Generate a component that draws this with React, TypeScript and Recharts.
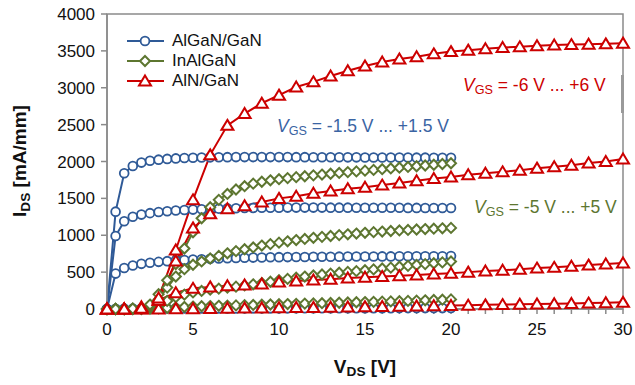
import { LineChart, Line, XAxis, YAxis, ReferenceArea } from 'recharts'

// drain voltage grids (V)
const vdsFine = [
  0, 0.5, 1, 1.5, 2, 2.5, 3, 3.5, 4, 4.5,
  5, 5.5, 6, 6.5, 7, 7.5, 8, 8.5, 9, 9.5,
  10, 10.5, 11, 11.5, 12, 12.5, 13, 13.5, 14, 14.5,
  15, 15.5, 16, 16.5, 17, 17.5, 18, 18.5, 19, 19.5,
  20,
]
const vdsCoarse = [
  0, 1, 2, 3, 4, 5, 6, 7, 8, 9, 10,
  11, 12, 13, 14, 15, 16, 17, 18, 19, 20,
  21, 22, 23, 24, 25, 26, 27, 28, 29, 30,
]
const xTicks = vdsCoarse
const yTicks = [0, 500, 1000, 1500, 2000, 2500, 3000, 3500, 4000]

// AlGaN/GaN, VGS = -1.5 ... +1.5 V
const alganHigh = [
  0, 1320, 1840, 1940, 1985, 2010, 2025, 2035, 2042, 2047,
  2051, 2054, 2056, 2058, 2059, 2060, 2060, 2060, 2060, 2060,
  2060, 2060, 2059, 2059, 2058, 2058, 2057, 2057, 2056, 2056,
  2055, 2055, 2054, 2054, 2053, 2053, 2052, 2052, 2051, 2051,
  2050,
]
const alganMid = [
  0, 990, 1190, 1250, 1280, 1300, 1315, 1326, 1335, 1342,
  1348, 1353, 1357, 1361, 1364, 1367, 1369, 1371, 1372, 1373,
  1374, 1375, 1375, 1375, 1375, 1375, 1374, 1374, 1374, 1373,
  1373, 1373, 1372, 1372, 1372, 1371, 1371, 1370, 1370, 1370,
  1369,
]
const alganLow = [
  0, 480, 555, 590, 612, 627, 639, 649, 657, 664,
  670, 675, 680, 684, 688, 691, 694, 697, 699, 701,
  703, 704, 705, 706, 707, 708, 709, 710, 711, 711,
  712, 712, 713, 713, 714, 714, 715, 715, 716, 716,
  717,
]
const alganOff = [
  0, 4, 5, 5, 6, 6, 6, 7, 7, 7,
  7, 8, 8, 8, 8, 8, 9, 9, 9, 9,
  9, 9, 10, 10, 10, 10, 10, 10, 11, 11,
  11, 11, 11, 11, 12, 12, 12, 12, 12, 12,
  13,
]

// InAlGaN, VGS = -5 ... +5 V
const inalganTop = [
  0, 0, 0, 5, 15, 60, 200, 390, 610, 820,
  1040, 1230, 1380, 1480, 1560, 1620, 1665, 1700, 1725, 1745,
  1760, 1775, 1788, 1800, 1812, 1823, 1834, 1845, 1856, 1866,
  1876, 1886, 1896, 1906, 1916, 1926, 1936, 1946, 1956, 1966,
  1976,
]
const inalganMid = [
  0, 0, 0, 3, 10, 40, 130, 290, 440, 540,
  600, 645, 685, 720, 755, 785, 810, 835, 860, 880,
  900, 918, 935, 950, 965, 978, 990, 1002, 1013, 1023,
  1033, 1042, 1050, 1058, 1065, 1072, 1078, 1084, 1089, 1094,
  1100,
]
const inalganLow = [
  0, 0, 0, 2, 5, 20, 60, 110, 160, 195,
  225, 245, 262, 276, 290, 303, 320, 335, 352, 370,
  390, 408, 425, 440, 455, 468, 480, 492, 503, 514,
  525, 537, 549, 561, 573, 585, 597, 609, 620, 632,
  645,
]
const inalganOff = [
  0, 0, 0, 0, 0, 2, 8, 15, 22, 28,
  33, 37, 40, 43, 46, 49, 52, 55, 58, 61,
  64, 67, 70, 73, 76, 79, 82, 85, 88, 91,
  94, 97, 100, 103, 106, 110, 114, 118, 122, 126,
  130,
]

// AlN/GaN, VGS = -6 ... +6 V
const alnTop = [
  0, 0, 10, 150, 800, 1480, 2090, 2490, 2650, 2790, 2900,
  3010, 3080, 3160, 3230, 3295, 3350, 3390, 3420, 3460, 3490,
  3510, 3530, 3545, 3555, 3570, 3580, 3585, 3590, 3595, 3605,
]
const alnMid = [
  0, 0, 5, 120, 650, 1100, 1290, 1360, 1400, 1450, 1500,
  1530, 1570, 1600, 1630, 1650, 1680, 1710, 1740, 1770, 1790,
  1820, 1840, 1860, 1880, 1910, 1930, 1950, 1980, 2000, 2035,
]
const alnLow = [
  0, 0, 30, 120, 220, 280, 300, 315, 325, 340, 365,
  380, 393, 405, 420, 430, 440, 450, 460, 475, 485,
  500, 515, 525, 540, 555, 565, 580, 595, 610, 625,
]
const alnOff = [
  0, 0, 0, 0, 5, 5, 8, 10, 12, 15, 18,
  20, 22, 25, 28, 30, 33, 36, 40, 44, 48,
  52, 56, 60, 64, 68, 72, 76, 80, 85, 90,
]

const BLUE = '#2f5a97'
const GREEN = '#5d7630'
const RED = '#cc0000'
const AXIS = '#8a8a8a'
const FONT = '"Liberation Sans", Arial, sans-serif'

type Marker = 'circle' | 'diamond' | 'triangle'

const series: { key: string; xs: number[]; ys: number[]; color: string; marker: Marker }[] = [
  { key: 'alganOff', xs: vdsFine, ys: alganOff, color: BLUE, marker: 'circle' },
  { key: 'alganLow', xs: vdsFine, ys: alganLow, color: BLUE, marker: 'circle' },
  { key: 'alganMid', xs: vdsFine, ys: alganMid, color: BLUE, marker: 'circle' },
  { key: 'alganHigh', xs: vdsFine, ys: alganHigh, color: BLUE, marker: 'circle' },
  { key: 'inalganOff', xs: vdsFine, ys: inalganOff, color: GREEN, marker: 'diamond' },
  { key: 'inalganLow', xs: vdsFine, ys: inalganLow, color: GREEN, marker: 'diamond' },
  { key: 'inalganMid', xs: vdsFine, ys: inalganMid, color: GREEN, marker: 'diamond' },
  { key: 'inalganTop', xs: vdsFine, ys: inalganTop, color: GREEN, marker: 'diamond' },
  { key: 'alnOff', xs: vdsCoarse, ys: alnOff, color: RED, marker: 'triangle' },
  { key: 'alnLow', xs: vdsCoarse, ys: alnLow, color: RED, marker: 'triangle' },
  { key: 'alnMid', xs: vdsCoarse, ys: alnMid, color: RED, marker: 'triangle' },
  { key: 'alnTop', xs: vdsCoarse, ys: alnTop, color: RED, marker: 'triangle' },
]

// merge everything into one table keyed by VDS
const rowMap = new Map<number, Record<string, number>>()
series.forEach((s) => {
  s.xs.forEach((x, i) => {
    const row = rowMap.get(x) ?? { x }
    row[s.key] = s.ys[i]
    rowMap.set(x, row)
  })
})
const data = [...rowMap.values()].sort((a, b) => a.x - b.x)

function markerShape(marker: Marker, color: string, cx: number, cy: number, key?: string) {
  if (marker === 'circle') {
    return <circle key={key} cx={cx} cy={cy} r={4.4} fill="#fff" stroke={color} strokeWidth={1.8} />
  }
  if (marker === 'diamond') {
    const d = `M${cx},${cy - 5} L${cx + 5},${cy} L${cx},${cy + 5} L${cx - 5},${cy} Z`
    return <path key={key} d={d} fill="#fff" stroke={color} strokeWidth={2} />
  }
  const d = `M${cx},${cy - 5.5} L${cx + 6},${cy + 4.5} L${cx - 6},${cy + 4.5} Z`
  return <path key={key} d={d} fill="#fff" stroke={color} strokeWidth={2} strokeLinejoin="miter" />
}

const makeDot = (marker: Marker, color: string, name: string) => (p: any) => {
  const key = `${name}-${p.index}`
  if (p.cx == null || p.cy == null || p.value == null) return <g key={key} />
  return markerShape(marker, color, p.cx, p.cy, key)
}

const legendItems: { label: string; color: string; marker: Marker }[] = [
  { label: 'AlGaN/GaN', color: BLUE, marker: 'circle' },
  { label: 'InAlGaN', color: GREEN, marker: 'diamond' },
  { label: 'AlN/GaN', color: RED, marker: 'triangle' },
]

const Sub = ({ children }: { children: string }) => (
  <span style={{ fontSize: '0.72em', verticalAlign: '-0.25em' }}>{children}</span>
)

const noteStyle = { position: 'absolute' as const, fontSize: 17.5, whiteSpace: 'nowrap' as const }

export default function App() {
  return (
    <div style={{ position: 'relative', width: 635, height: 385, fontFamily: FONT, background: '#fff' }}>
      <style>{'body{margin:0}'}</style>
      <LineChart width={635} height={385} data={data} margin={{ top: 14, right: 12, bottom: 0, left: 47 }}>
        <ReferenceArea x1={0} x2={30} y1={0} y2={4000} fill="none" stroke={AXIS} strokeWidth={1.5} />
        <XAxis
          dataKey="x"
          type="number"
          domain={[0, 30]}
          ticks={xTicks}
          interval={0}
          tickFormatter={(v: number) => (v % 5 === 0 ? String(v) : '')}
          stroke={AXIS}
          strokeWidth={1.5}
          tickSize={5}
          tickMargin={9}
          height={76}
          tick={{ fill: '#111', fontSize: 17, fontFamily: FONT }}
        />
        <YAxis
          type="number"
          domain={[0, 4000]}
          ticks={yTicks}
          interval={0}
          stroke={AXIS}
          strokeWidth={1.5}
          tickSize={6}
          tickMargin={6}
          width={60}
          tick={{ fill: '#111', fontSize: 17, fontFamily: FONT }}
        />
        {series.map((s) => (
          <Line
            key={s.key}
            dataKey={s.key}
            type="linear"
            stroke={s.color}
            strokeWidth={2}
            connectNulls
            isAnimationActive={false}
            dot={makeDot(s.marker, s.color, s.key)}
            activeDot={false}
          />
        ))}
      </LineChart>

      {/* short grey mark on the right frame */}
      <div style={{ position: 'absolute', left: 621, top: 75, width: 3, height: 38, background: '#9a9a9a' }} />

      {/* legend */}
      <div style={{ position: 'absolute', left: 124, top: 31 }}>
        {legendItems.map((it) => (
          <div key={it.label} style={{ display: 'flex', alignItems: 'center', height: 20 }}>
            <svg width={44} height={20}>
              <line x1={3} y1={10} x2={40} y2={10} stroke={it.color} strokeWidth={2} />
              {markerShape(it.marker, it.color, 21, 10)}
            </svg>
            <span style={{ fontSize: 17, color: '#111', marginLeft: 4 }}>{it.label}</span>
          </div>
        ))}
      </div>

      {/* gate voltage annotations */}
      <div style={{ ...noteStyle, left: 463, top: 75, color: RED }}>
        <i>V</i>
        <Sub>GS</Sub> = -6 V ... +6 V
      </div>
      <div style={{ ...noteStyle, left: 277, top: 116, color: '#3a64a3' }}>
        <i>V</i>
        <Sub>GS</Sub> = -1.5 V ... +1.5 V
      </div>
      <div style={{ ...noteStyle, left: 474, top: 197, color: GREEN }}>
        <i>V</i>
        <Sub>GS</Sub> = -5 V ... +5 V
      </div>

      {/* axis titles */}
      <div
        style={{
          position: 'absolute',
          left: 365,
          top: 356,
          transform: 'translateX(-50%)',
          fontSize: 19,
          fontWeight: 'bold',
          color: '#111',
          whiteSpace: 'nowrap',
        }}
      >
        V<Sub>DS</Sub> [V]
      </div>
      <div
        style={{
          position: 'absolute',
          left: 21,
          top: 161,
          transform: 'translate(-50%, -50%) rotate(-90deg)',
          fontSize: 19,
          fontWeight: 'bold',
          color: '#111',
          whiteSpace: 'nowrap',
        }}
      >
        I<Sub>DS</Sub> [mA/mm]
      </div>
    </div>
  )
}
